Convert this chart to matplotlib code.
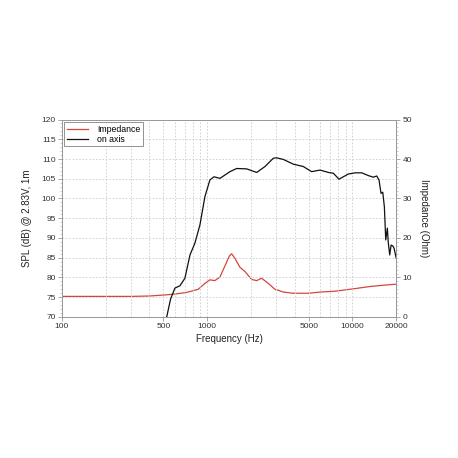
import matplotlib
matplotlib.use("Agg")
import matplotlib.pyplot as plt
from matplotlib.ticker import FixedLocator, MultipleLocator, NullFormatter

plt.rcParams['font.family'] = ['Liberation Sans', 'DejaVu Sans']

# on axis SPL (dB)
spl_freq = [520, 560, 600, 650, 703, 762, 824, 892, 966, 1045, 1114, 1225,
            1436, 1597, 1872, 2193, 2502, 2854, 3006, 3343, 3918, 4592, 5239,
            5983, 6829, 7387, 8084, 8657, 9372, 10420, 11590, 12880, 13930,
            14690, 15240, 15730, 16170, 16590, 16950, 17390, 17660, 18060,
            18450, 18950, 19350, 20000]
spl_db = [69.0, 74.5, 77.3, 77.9, 79.8, 85.7, 88.7, 93.3, 100.5, 104.7, 105.5,
          105.1, 106.8, 107.6, 107.5, 106.6, 108.1, 110.2, 110.3, 109.9, 108.7,
          108.1, 106.8, 107.2, 106.6, 106.4, 104.9, 105.5, 106.2, 106.5, 106.5,
          105.8, 105.4, 105.7, 104.7, 101.3, 101.6, 97.9, 89.5, 92.5, 88.7,
          85.7, 88.2, 88.0, 87.4, 84.9]

# impedance (Ohm)
imp_freq = [100, 200, 300, 400, 526, 600, 722, 868, 966, 1045, 1130, 1225,
            1329, 1420, 1475, 1550, 1681, 1821, 2024, 2193, 2372, 2634, 2931,
            3343, 3918, 5000, 5983, 7500, 9620, 13160, 16000, 20000]
imp_ohm = [5.2, 5.2, 5.2, 5.3, 5.6, 5.8, 6.2, 7.0, 8.5, 9.4, 9.2, 10.1,
           13.0, 15.4, 16.0, 14.9, 12.6, 11.5, 9.5, 9.2, 9.8, 8.5, 7.0,
           6.3, 6.0, 6.0, 6.3, 6.5, 7.0, 7.7, 8.0, 8.3]

x_ticks = [100, 500, 1000, 5000, 10000, 20000]
x_grid = [200, 300, 400, 600, 700, 800, 900, 2000, 3000, 4000, 6000, 7000,
          8000, 9000]

red = '#d2473d'

fig = plt.figure(figsize=(4.58, 4.58), dpi=100)
ax = fig.add_axes([0.135, 0.308, 0.73, 0.431])
ax2 = ax.twinx()

ax.set_xscale('log')
ax.set_xlim(100, 20000)
ax.set_ylim(70, 120)
ax2.set_ylim(0, 50)

ax.xaxis.set_major_locator(FixedLocator(x_ticks))
ax.xaxis.set_minor_locator(FixedLocator(x_grid))
ax.xaxis.set_minor_formatter(NullFormatter())
ax.set_xticklabels([str(t) for t in x_ticks])
ax.yaxis.set_major_locator(MultipleLocator(5))
ax.yaxis.set_minor_locator(MultipleLocator(1))
ax2.yaxis.set_major_locator(MultipleLocator(10))
ax2.yaxis.set_minor_locator(MultipleLocator(1))

ax.grid(True, which='both', axis='x', ls=(0, (2, 2)), color='#cccccc', lw=0.6)
ax.grid(True, which='major', axis='y', ls=(0, (2, 2)), color='#cccccc', lw=0.6)

l_imp, = ax2.plot(imp_freq, imp_ohm, color=red, lw=0.9, label='Impedance')
l_spl, = ax.plot(spl_freq, spl_db, color='#111111', lw=0.9, label='on axis')

for a in (ax, ax2):
    for s in a.spines.values():
        s.set_color('#999999')
        s.set_linewidth(0.7)
    a.tick_params(which='major', length=3, width=0.6, color='#999999',
                  labelsize=6, labelcolor='#333333', pad=1.5)
    a.tick_params(which='minor', length=1.5, width=0.4, color='#aaaaaa')
ax.tick_params(axis='x', which='minor', length=0)

ax.set_xlabel('Frequency (Hz)', fontsize=7, color='#222222', labelpad=3)
ax.set_ylabel('SPL (dB) @ 2.83V, 1m', fontsize=7, color='#222222', labelpad=7)
ax2.set_ylabel('Impedance (Ohm)', fontsize=7, color='#222222', rotation=270,
               labelpad=12)

leg = ax.legend(handles=[l_imp, l_spl], loc='upper left', fontsize=6.3,
                frameon=True, fancybox=False, borderaxespad=0.3,
                handlelength=2.4, borderpad=0.3, labelspacing=0.1,
                handletextpad=1.0)
leg.get_frame().set_edgecolor('#777777')
leg.get_frame().set_linewidth(0.7)
ax.set_zorder(ax2.get_zorder() + 1)
ax.patch.set_visible(False)

fig.savefig('out.png', dpi=100)
